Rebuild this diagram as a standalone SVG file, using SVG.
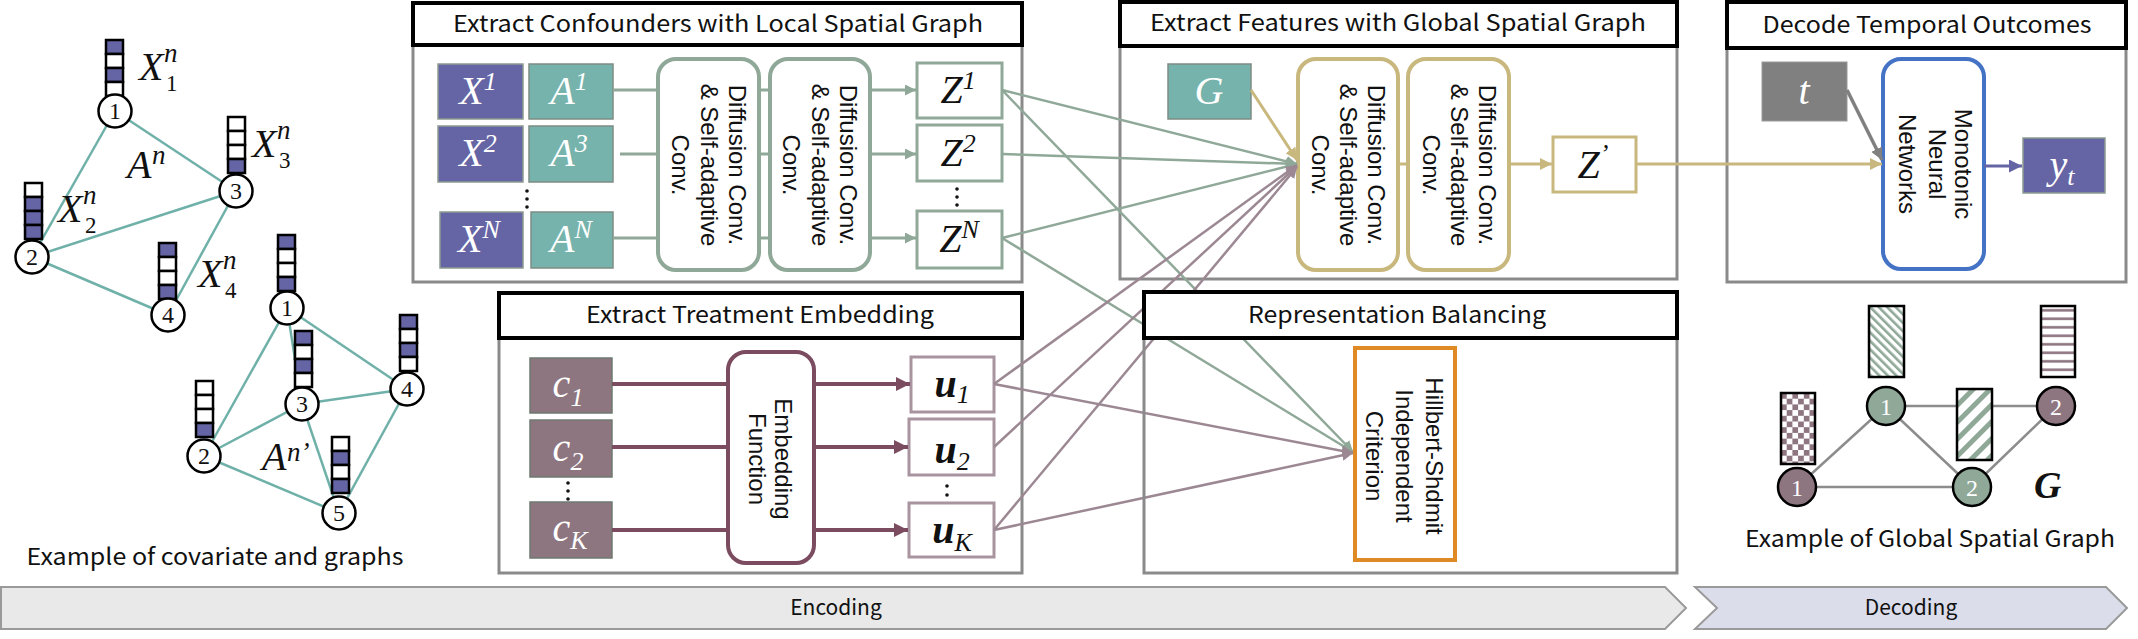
<svg xmlns="http://www.w3.org/2000/svg" width="2138" height="639" viewBox="0 0 2138 639">
<style>
.hdr{fill:#fff;stroke:#000;stroke-width:4}
.outer{fill:#fff;stroke:#8A8A8A;stroke-width:3}
.ttl{font-family:"Noto Sans CJK JP","Noto Sans",sans-serif;font-size:23px;fill:#111;text-anchor:middle}
.cap{font-family:"Noto Sans CJK JP","Noto Sans",sans-serif;font-size:23px;fill:#111;text-anchor:middle}
.rot{font-family:"Liberation Sans",Arial,sans-serif;font-size:24px;fill:#111;text-anchor:middle}
.m{font-family:"Liberation Serif","Times New Roman",serif;font-style:italic;fill:#111}
.mw{fill:#fff}
.big{font-size:40px}
.sup{font-size:26px}
.xb{fill:#6565A5;stroke:#8C9A90;stroke-width:1.5}
.ab{fill:#76B3AC;stroke:#7F8C84;stroke-width:1.5}
.diff{fill:#fff;stroke:#8FA898;stroke-width:4}
.gdiff{fill:#fff;stroke:#C9B87E;stroke-width:4}
.zb{fill:#fff;stroke:#8FA898;stroke-width:3}
.cb{fill:#8E7681;stroke:#6E7A70;stroke-width:1.5}
.ub{fill:#fff;stroke:#A8949E;stroke-width:3}
.sage{stroke:#8FA898;stroke-width:3;fill:none}
.sagex{stroke:#8FA898;stroke-width:2.5;fill:none}
.mauve{stroke:#9C8893;stroke-width:2.5;fill:none}
.plum{stroke:#7B4B60;stroke-width:4;fill:none}
.tan{stroke:#C9B87E;stroke-width:3;fill:none}
.edge{stroke:#6FB1A9;stroke-width:2.5}
.gedge{stroke:#8C8C8C;stroke-width:2.5}
.cell{stroke:#000;stroke-width:2.5}
.P{fill:#6565A5}
.W{fill:#fff}
.node{fill:#fff;stroke:#000;stroke-width:2.5}
.nl{font-family:"Liberation Serif","Times New Roman",serif;font-size:24px;text-anchor:middle;fill:#111}
.dot{fill:#111}
.band{font-family:"Noto Sans CJK JP","Noto Sans",sans-serif;font-size:21px;fill:#111;text-anchor:middle}
</style>
<defs>
<marker id="aSage" viewBox="0 0 10 10" refX="10" refY="5" markerWidth="11" markerHeight="11" markerUnits="userSpaceOnUse" orient="auto"><path d="M0,0 L10,5 L0,10 z" fill="#8FA898"/></marker>
<marker id="aMauve" viewBox="0 0 10 10" refX="10" refY="5" markerWidth="11" markerHeight="11" markerUnits="userSpaceOnUse" orient="auto"><path d="M0,0 L10,5 L0,10 z" fill="#9C8893"/></marker>
<marker id="aPlum" viewBox="0 0 10 10" refX="10" refY="5" markerWidth="14" markerHeight="14" markerUnits="userSpaceOnUse" orient="auto"><path d="M0,0 L10,5 L0,10 z" fill="#7B4B60"/></marker>
<marker id="aTan" viewBox="0 0 10 10" refX="10" refY="5" markerWidth="12" markerHeight="12" markerUnits="userSpaceOnUse" orient="auto"><path d="M0,0 L10,5 L0,10 z" fill="#C9B87E"/></marker>
<marker id="aGray" viewBox="0 0 10 10" refX="10" refY="5" markerWidth="12" markerHeight="12" markerUnits="userSpaceOnUse" orient="auto"><path d="M0,0 L10,5 L0,10 z" fill="#808080"/></marker>
<marker id="aPurple" viewBox="0 0 10 10" refX="10" refY="5" markerWidth="13" markerHeight="13" markerUnits="userSpaceOnUse" orient="auto"><path d="M0,0 L10,5 L0,10 z" fill="#6565A5"/></marker>
<pattern id="checker" patternUnits="userSpaceOnUse" x="1781" y="393" width="11.4" height="11.4"><rect width="11.4" height="11.4" fill="#fff"/><rect width="5.7" height="5.7" fill="#8E7681"/><rect x="5.7" y="5.7" width="5.7" height="5.7" fill="#8E7681"/></pattern>
<pattern id="diagN" patternUnits="userSpaceOnUse" width="6" height="6" patternTransform="rotate(-45)"><rect width="6" height="6" fill="#fff"/><rect width="2.6" height="6" fill="#8FA898"/></pattern>
<pattern id="diagW" patternUnits="userSpaceOnUse" width="12" height="12" patternTransform="rotate(45)"><rect width="12" height="12" fill="#fff"/><rect width="5" height="12" fill="#8FA898"/></pattern>
<pattern id="hstripe" patternUnits="userSpaceOnUse" x="0" y="306" width="10" height="8.5"><rect width="10" height="8.5" fill="#fff"/><rect y="3" width="10" height="2.6" fill="#8E7681"/></pattern>
</defs>

<rect width="2138" height="639" fill="#fff"/>

<!-- Banner -->
<g id="banner-encoding">
<polygon points="1,587 1665,587 1686,608 1665,629 1,629" fill="#E8E9E8" stroke="#9A9A9A" stroke-width="2"/>
<text class="band" x="836" y="615">Encoding</text>
</g>
<g id="banner-decoding">
<polygon points="1695,587 2106,587 2127,608 2106,629 1695,629 1717,608" fill="#DCDDEB" stroke="#9A9A9A" stroke-width="2"/>
<text class="band" x="1911" y="615">Decoding</text>
</g>

<!-- Left example graphs -->
<g id="covariate-example">
<g>
<line class="edge" x1="115" y1="111" x2="32" y2="257"/>
<line class="edge" x1="115" y1="111" x2="236" y2="191"/>
<line class="edge" x1="32" y1="257" x2="236" y2="191"/>
<line class="edge" x1="32" y1="257" x2="168" y2="315"/>
<line class="edge" x1="236" y1="191" x2="168" y2="315"/>
<line class="edge" x1="287" y1="308" x2="204" y2="456"/>
<line class="edge" x1="287" y1="308" x2="302" y2="404"/>
<line class="edge" x1="287" y1="308" x2="407" y2="389"/>
<line class="edge" x1="302" y1="404" x2="407" y2="389"/>
<line class="edge" x1="204" y1="456" x2="302" y2="404"/>
<line class="edge" x1="302" y1="404" x2="339" y2="513"/>
<line class="edge" x1="204" y1="456" x2="339" y2="513"/>
<line class="edge" x1="407" y1="389" x2="339" y2="513"/>
</g>
<g>
<rect class="cell P" x="106" y="40" width="17" height="14"/><rect class="cell W" x="106" y="54" width="17" height="14"/><rect class="cell P" x="106" y="68" width="17" height="14"/><rect class="cell W" x="106" y="82" width="17" height="14"/>
<rect class="cell W" x="228" y="117" width="17" height="14"/><rect class="cell W" x="228" y="131" width="17" height="14"/><rect class="cell W" x="228" y="145" width="17" height="14"/><rect class="cell P" x="228" y="159" width="17" height="14"/>
<rect class="cell W" x="25" y="183" width="17" height="14"/><rect class="cell P" x="25" y="197" width="17" height="14"/><rect class="cell P" x="25" y="211" width="17" height="14"/><rect class="cell P" x="25" y="225" width="17" height="14"/>
<rect class="cell P" x="159" y="243" width="17" height="14"/><rect class="cell W" x="159" y="257" width="17" height="14"/><rect class="cell W" x="159" y="271" width="17" height="14"/><rect class="cell P" x="159" y="285" width="17" height="14"/>
<rect class="cell P" x="278" y="235" width="17" height="14"/><rect class="cell W" x="278" y="249" width="17" height="14"/><rect class="cell W" x="278" y="263" width="17" height="14"/><rect class="cell P" x="278" y="277" width="17" height="14"/>
<rect class="cell P" x="295" y="331" width="17" height="14"/><rect class="cell W" x="295" y="345" width="17" height="14"/><rect class="cell P" x="295" y="359" width="17" height="14"/><rect class="cell W" x="295" y="373" width="17" height="14"/>
<rect class="cell P" x="400" y="315" width="17" height="14"/><rect class="cell W" x="400" y="329" width="17" height="14"/><rect class="cell P" x="400" y="343" width="17" height="14"/><rect class="cell W" x="400" y="357" width="17" height="14"/>
<rect class="cell W" x="196" y="381" width="17" height="14"/><rect class="cell W" x="196" y="395" width="17" height="14"/><rect class="cell W" x="196" y="409" width="17" height="14"/><rect class="cell P" x="196" y="423" width="17" height="14"/>
<rect class="cell W" x="332" y="437" width="17" height="14"/><rect class="cell P" x="332" y="451" width="17" height="14"/><rect class="cell W" x="332" y="465" width="17" height="14"/><rect class="cell P" x="332" y="479" width="17" height="14"/>
</g>
<g>
<circle class="node" cx="115" cy="111" r="16.5"/><text class="nl" x="115" y="119">1</text>
<circle class="node" cx="236" cy="191" r="16.5"/><text class="nl" x="236" y="199">3</text>
<circle class="node" cx="32" cy="257" r="16.5"/><text class="nl" x="32" y="265">2</text>
<circle class="node" cx="168" cy="315" r="16.5"/><text class="nl" x="168" y="323">4</text>
<circle class="node" cx="287" cy="308" r="16.5"/><text class="nl" x="287" y="316">1</text>
<circle class="node" cx="302" cy="404" r="16.5"/><text class="nl" x="302" y="412">3</text>
<circle class="node" cx="407" cy="389" r="16.5"/><text class="nl" x="407" y="397">4</text>
<circle class="node" cx="204" cy="456" r="16.5"/><text class="nl" x="204" y="464">2</text>
<circle class="node" cx="339" cy="513" r="16.5"/><text class="nl" x="339" y="521">5</text>
</g>
<text class="m" font-size="40"><tspan x="139" y="80">X</tspan><tspan x="164" y="62" font-size="27">n</tspan><tspan x="166" y="91" font-size="23" font-style="normal">1</tspan></text>
<text class="m" font-size="40"><tspan x="58" y="222">X</tspan><tspan x="83" y="204" font-size="27">n</tspan><tspan x="85" y="233" font-size="23" font-style="normal">2</tspan></text>
<text class="m" font-size="40"><tspan x="252" y="157">X</tspan><tspan x="277" y="139" font-size="27">n</tspan><tspan x="279" y="168" font-size="23" font-style="normal">3</tspan></text>
<text class="m" font-size="40"><tspan x="198" y="287">X</tspan><tspan x="223" y="269" font-size="27">n</tspan><tspan x="225" y="298" font-size="23" font-style="normal">4</tspan></text>
<text class="m" font-size="40"><tspan x="127" y="178">A</tspan><tspan x="152" y="164" font-size="27">n</tspan></text>
<text class="m" font-size="40"><tspan x="262" y="470">A</tspan><tspan x="287" y="461" font-size="27">n’</tspan></text>
<text class="cap" x="215" y="565" textLength="377" lengthAdjust="spacingAndGlyphs">Example of covariate and graphs</text>
</g>

<!-- Extract Confounders with Local Spatial Graph -->
<g id="local-graph-box">
<rect class="outer" x="413" y="45" width="609" height="237"/>
<rect class="hdr" x="413" y="3" width="609" height="42"/>
<text class="ttl" x="718" y="32" textLength="530" lengthAdjust="spacingAndGlyphs">Extract Confounders with Local Spatial Graph</text>
<rect class="xb" x="438" y="64" width="85" height="55"/>
<rect class="xb" x="438" y="126" width="85" height="56"/>
<rect class="xb" x="440" y="212" width="83" height="56"/>
<rect class="ab" x="529" y="64" width="84" height="55"/>
<rect class="ab" x="529" y="126" width="84" height="56"/>
<rect class="ab" x="531" y="212" width="82" height="56"/>
<text class="m mw big" x="478" y="104" text-anchor="middle">X<tspan class="sup" dy="-14">1</tspan></text>
<text class="m mw big" x="478" y="166" text-anchor="middle">X<tspan class="sup" dy="-14">2</tspan></text>
<text class="m mw big" x="479" y="252" text-anchor="middle">X<tspan class="sup" dy="-14">N</tspan></text>
<text class="m mw big" x="569" y="104" text-anchor="middle">A<tspan class="sup" dy="-14">1</tspan></text>
<text class="m mw big" x="569" y="166" text-anchor="middle">A<tspan class="sup" dy="-14">3</tspan></text>
<text class="m mw big" x="571" y="252" text-anchor="middle">A<tspan class="sup" dy="-14">N</tspan></text>
<circle class="dot" cx="527" cy="191" r="1.8"/><circle class="dot" cx="527" cy="199" r="1.8"/><circle class="dot" cx="527" cy="207" r="1.8"/>
<rect class="diff" x="658" y="59" width="101" height="211" rx="18"/>
<rect class="diff" x="770" y="59" width="100" height="211" rx="18"/>
<text class="rot" transform="translate(709,165) rotate(90)"><tspan x="0" y="-20">Diffusion Conv.</tspan><tspan x="0" y="8.5">&amp; Self-adaptive</tspan><tspan x="0" y="37">Conv.</tspan></text>
<text class="rot" transform="translate(820,165) rotate(90)"><tspan x="0" y="-20">Diffusion Conv.</tspan><tspan x="0" y="8.5">&amp; Self-adaptive</tspan><tspan x="0" y="37">Conv.</tspan></text>
<rect class="zb" x="917" y="63" width="85" height="55"/>
<rect class="zb" x="917" y="125" width="85" height="56"/>
<rect class="zb" x="917" y="211" width="85" height="57"/>
<text class="m big" x="958" y="103" text-anchor="middle">Z<tspan class="sup" dy="-14">1</tspan></text>
<text class="m big" x="958" y="166" text-anchor="middle">Z<tspan class="sup" dy="-14">2</tspan></text>
<text class="m big" x="959" y="252" text-anchor="middle">Z<tspan class="sup" dy="-14">N</tspan></text>
<circle class="dot" cx="957" cy="189" r="1.8"/><circle class="dot" cx="957" cy="197" r="1.8"/><circle class="dot" cx="957" cy="205" r="1.8"/>
</g>

<!-- Extract Features with Global Spatial Graph -->
<g id="global-graph-box">
<rect class="outer" x="1120" y="46" width="557" height="233"/>
<rect class="hdr" x="1120" y="2" width="557" height="44"/>
<text class="ttl" x="1398" y="31" textLength="496" lengthAdjust="spacingAndGlyphs">Extract Features with Global Spatial Graph</text>
<rect class="ab" x="1168" y="64" width="83" height="55"/>
<text class="m mw big" x="1209" y="104" text-anchor="middle">G</text>
<rect class="gdiff" x="1298" y="59" width="100" height="211" rx="18"/>
<rect class="gdiff" x="1408" y="59" width="101" height="211" rx="18"/>
<text class="rot" transform="translate(1348,165) rotate(90)"><tspan x="0" y="-19.5">Diffusion Conv.</tspan><tspan x="0" y="8.5">&amp; Self-adaptive</tspan><tspan x="0" y="36">Conv.</tspan></text>
<text class="rot" transform="translate(1459,165) rotate(90)"><tspan x="0" y="-19.5">Diffusion Conv.</tspan><tspan x="0" y="8.5">&amp; Self-adaptive</tspan><tspan x="0" y="36">Conv.</tspan></text>
<rect x="1553" y="137" width="83" height="55" fill="#fff" stroke="#C9B87E" stroke-width="3"/>
<text class="m big" x="1593" y="178" text-anchor="middle">Z<tspan class="sup" dy="-16">’</tspan></text>
</g>

<!-- Decode Temporal Outcomes -->
<g id="decode-box">
<rect class="outer" x="1727" y="48" width="399" height="234"/>
<rect class="hdr" x="1727" y="2" width="399" height="46"/>
<text class="ttl" x="1927" y="33" textLength="329" lengthAdjust="spacingAndGlyphs">Decode Temporal Outcomes</text>
<rect x="1762" y="62" width="85" height="59" fill="#808080" stroke="#9A9A9A" stroke-width="1"/>
<text class="m mw big" x="1804" y="104" text-anchor="middle">t</text>
<rect x="1883" y="59" width="101" height="210" rx="18" fill="#fff" stroke="#4472C4" stroke-width="4"/>
<text class="rot" transform="translate(1935,164) rotate(90)"><tspan x="0" y="-19.5">Monotonic</tspan><tspan x="0" y="6.5">Neural</tspan><tspan x="0" y="36">Networks</tspan></text>
<rect x="2023" y="138" width="82" height="55" fill="#6565A5" stroke="#8C9A90" stroke-width="1.5"/>
<text class="m mw big" x="2062" y="178" text-anchor="middle">y<tspan class="sup" dy="7">t</tspan></text>
</g>

<!-- Extract Treatment Embedding -->
<g id="treatment-box">
<rect class="outer" x="499" y="338" width="523" height="235"/>
<rect class="hdr" x="499" y="293" width="523" height="45"/>
<text class="ttl" x="760" y="323" textLength="348" lengthAdjust="spacingAndGlyphs">Extract Treatment Embedding</text>
<rect class="cb" x="530" y="358" width="82" height="55"/>
<rect class="cb" x="530" y="420" width="82" height="57" stroke="#4A4A80"/>
<rect class="cb" x="530" y="502" width="82" height="56"/>
<text class="m mw" font-size="40" x="568" y="397" text-anchor="middle">c<tspan font-size="26" dy="9">1</tspan></text>
<text class="m mw" font-size="40" x="568" y="461" text-anchor="middle">c<tspan font-size="26" dy="9">2</tspan></text>
<text class="m mw" font-size="40" x="570" y="541" text-anchor="middle">c<tspan font-size="26" dy="8">K</tspan></text>
<circle class="dot" cx="568" cy="483" r="1.8"/><circle class="dot" cx="568" cy="491" r="1.8"/><circle class="dot" cx="568" cy="499" r="1.8"/>
<rect x="728" y="352" width="86" height="211" rx="18" fill="#fff" stroke="#7B4B60" stroke-width="4"/>
<text class="rot" transform="translate(771,459) rotate(90)"><tspan x="0" y="-4">Embedding</tspan><tspan x="0" y="22">Function</tspan></text>
<rect class="ub" x="911" y="357" width="83" height="55"/>
<rect class="ub" x="909" y="419" width="85" height="56"/>
<rect class="ub" x="909" y="503" width="85" height="54"/>
<text class="m" font-size="40" font-weight="bold" x="952" y="397" text-anchor="middle">u<tspan font-size="26" font-weight="normal" dy="6">1</tspan></text>
<text class="m" font-size="40" font-weight="bold" x="952" y="463" text-anchor="middle">u<tspan font-size="26" font-weight="normal" dy="7">2</tspan></text>
<text class="m" font-size="40" font-weight="bold" x="952" y="543" text-anchor="middle">u<tspan font-size="26" font-weight="normal" dy="8">K</tspan></text>
<circle class="dot" cx="947" cy="486" r="1.8"/><circle class="dot" cx="947" cy="495" r="1.8"/>
</g>

<!-- Right example graph -->
<g id="global-example">
<line class="gedge" x1="1797" y1="487" x2="1886" y2="406"/>
<line class="gedge" x1="1797" y1="487" x2="1972" y2="487"/>
<line class="gedge" x1="1886" y1="406" x2="1972" y2="487"/>
<line class="gedge" x1="1886" y1="406" x2="2056" y2="406"/>
<line class="gedge" x1="1972" y1="487" x2="2056" y2="406"/>
<rect x="1781" y="393" width="34" height="71" fill="url(#checker)" stroke="#000" stroke-width="2.5"/>
<rect x="1869" y="306" width="35" height="71" fill="url(#diagN)" stroke="#000" stroke-width="2.5"/>
<rect x="1957" y="389" width="35" height="71" fill="url(#diagW)" stroke="#000" stroke-width="2.5"/>
<rect x="2041" y="306" width="34" height="71" fill="url(#hstripe)" stroke="#000" stroke-width="2.5"/>
<circle cx="1797" cy="487" r="19" fill="#8E7681" stroke="#000" stroke-width="2.5"/>
<circle cx="1886" cy="406" r="19" fill="#8FA898" stroke="#000" stroke-width="2.5"/>
<circle cx="1972" cy="487" r="19" fill="#8FA898" stroke="#000" stroke-width="2.5"/>
<circle cx="2056" cy="406" r="19" fill="#8E7681" stroke="#000" stroke-width="2.5"/>
<text class="nl" font-size="27" style="fill:#fff" x="1797" y="496">1</text>
<text class="nl" font-size="27" style="fill:#fff" x="1886" y="415">1</text>
<text class="nl" font-size="27" style="fill:#fff" x="1972" y="496">2</text>
<text class="nl" font-size="27" style="fill:#fff" x="2056" y="415">2</text>
<text class="m" font-size="38" font-weight="bold" x="2034" y="498">G</text>
<text class="cap" x="1930" y="547" textLength="370" lengthAdjust="spacingAndGlyphs">Example of Global Spatial Graph</text>
</g>

<!-- Connectors -->
<g id="connectors">
<line class="sage" x1="613" y1="90" x2="658" y2="90"/>
<line class="sage" x1="620" y1="154" x2="658" y2="154"/>
<line class="sage" x1="613" y1="238" x2="658" y2="238"/>
<line class="sage" x1="759" y1="90" x2="770" y2="90"/>
<line class="sage" x1="759" y1="154" x2="770" y2="154"/>
<line class="sage" x1="759" y1="238" x2="770" y2="238"/>
<line class="sage" x1="870" y1="90" x2="916" y2="90" marker-end="url(#aSage)"/>
<line class="sage" x1="870" y1="154" x2="916" y2="154" marker-end="url(#aSage)"/>
<line class="sage" x1="870" y1="238" x2="916" y2="238" marker-end="url(#aSage)"/>
<line class="plum" x1="612" y1="384" x2="728" y2="384"/>
<line class="plum" x1="612" y1="447" x2="728" y2="447"/>
<line class="plum" x1="612" y1="530" x2="728" y2="530"/>
<line class="plum" x1="814" y1="384" x2="910" y2="384" marker-end="url(#aPlum)"/>
<line class="plum" x1="814" y1="447" x2="908" y2="447" marker-end="url(#aPlum)"/>
<line class="plum" x1="814" y1="530" x2="908" y2="530" marker-end="url(#aPlum)"/>
<line class="sagex" x1="1002" y1="90" x2="1297" y2="164" marker-end="url(#aSage)"/>
<line class="sagex" x1="1002" y1="154" x2="1297" y2="164" marker-end="url(#aSage)"/>
<line class="sagex" x1="1002" y1="238" x2="1297" y2="164" marker-end="url(#aSage)"/>
<line class="sagex" x1="1002" y1="90" x2="1353" y2="452" marker-end="url(#aSage)"/>
<line class="sagex" x1="1002" y1="238" x2="1353" y2="452" marker-end="url(#aSage)"/>
<line class="mauve" x1="994" y1="384" x2="1297" y2="165" marker-end="url(#aMauve)"/>
<line class="mauve" x1="994" y1="447" x2="1297" y2="166" marker-end="url(#aMauve)"/>
<line class="mauve" x1="994" y1="530" x2="1297" y2="167" marker-end="url(#aMauve)"/>
<line class="mauve" x1="994" y1="384" x2="1353" y2="453" marker-end="url(#aMauve)"/>
<line class="mauve" x1="994" y1="530" x2="1353" y2="453" marker-end="url(#aMauve)"/>
<line class="tan" x1="1251" y1="90" x2="1297" y2="160" marker-end="url(#aTan)"/>
<line class="tan" x1="1398" y1="164" x2="1408" y2="164"/>
<line class="tan" x1="1509" y1="164" x2="1552" y2="164" marker-end="url(#aTan)"/>
<line class="tan" x1="1636" y1="164" x2="1882" y2="164" marker-end="url(#aTan)"/>
<line x1="1847" y1="90" x2="1882" y2="160" stroke="#808080" stroke-width="3.5" marker-end="url(#aGray)"/>
<line x1="1984" y1="166" x2="2022" y2="166" stroke="#6565A5" stroke-width="3" marker-end="url(#aPurple)"/>
</g>

<!-- Representation Balancing (drawn after connectors so its header covers them) -->
<g id="balancing-box">
<rect x="1144" y="338" width="533" height="235" fill="none" stroke="#8A8A8A" stroke-width="3"/>
<rect class="hdr" x="1144" y="292" width="533" height="46"/>
<text class="ttl" x="1397" y="323" textLength="298" lengthAdjust="spacingAndGlyphs">Representation Balancing</text>
<rect x="1355" y="348" width="100" height="212" fill="#fff" stroke="#E08A25" stroke-width="4"/>
<text class="rot" font-size="25" transform="translate(1405,456) rotate(90)"><tspan x="0" y="-20.5">Hillbert-Shdmit</tspan><tspan x="0" y="9">Independent</tspan><tspan x="0" y="39">Criterion</tspan></text>
</g>
</svg>
